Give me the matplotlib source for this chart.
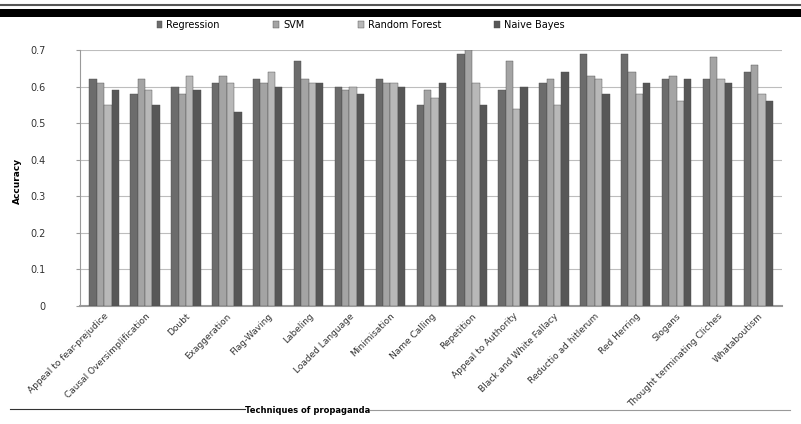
import matplotlib.pyplot as plt
import numpy as np
from matplotlib.lines import Line2D
from matplotlib.patches import Rectangle

techniques = [
    "Appeal to fear-prejudice", "Causal Oversimplification", "Doubt",
    "Exaggeration", "Flag-Waving", "Labeling", "Loaded Language",
    "Minimisation", "Name Calling", "Repetition", "Appeal to Authority",
    "Black and White Fallacy", "Reductio ad hitlerum", "Red Herring",
    "Slogans", "Thought terminating Cliches", "Whataboutism",
]

regression = [0.62, 0.58, 0.60, 0.61, 0.62, 0.67, 0.60, 0.62, 0.55,
              0.69, 0.59, 0.61, 0.69, 0.69, 0.62, 0.62, 0.64]
svm = [0.61, 0.62, 0.58, 0.63, 0.61, 0.62, 0.59, 0.61, 0.59,
       0.70, 0.67, 0.62, 0.63, 0.64, 0.63, 0.68, 0.66]
random_forest = [0.55, 0.59, 0.63, 0.61, 0.64, 0.61, 0.60, 0.61, 0.57,
                 0.61, 0.54, 0.55, 0.62, 0.58, 0.56, 0.62, 0.58]
naive_bayes = [0.59, 0.55, 0.59, 0.53, 0.60, 0.61, 0.58, 0.60, 0.61,
               0.55, 0.60, 0.64, 0.58, 0.61, 0.62, 0.61, 0.56]

series = [
    ("Regression", regression, "#6c6c6c"),
    ("SVM", svm, "#a4a4a4"),
    ("Random Forest", random_forest, "#b8b8b8"),
    ("Naive Bayes", naive_bayes, "#575757"),
]

fig = plt.figure(figsize=(8.01, 4.24), dpi=100)
ax = fig.add_axes([0.0999, 0.2783, 0.876, 0.6037])

x = np.arange(len(techniques))
width = 0.18
for i, (name, vals, color) in enumerate(series):
    off = (i - 1.5) * width
    ax.bar(x + off, vals, width, color=color, label=name, zorder=3,
           edgecolor="#4a4a4a", linewidth=0.3)

ax.set_xlim(-0.59, len(techniques) - 1 + 0.57)
ax.set_ylim(0, 0.7)
ax.set_yticks(np.arange(0, 0.71, 0.1))
ax.set_yticklabels(["0", "0.1", "0.2", "0.3", "0.4", "0.5", "0.6", "0.7"])
ax.yaxis.grid(True, color="#bdbdbd", linewidth=0.8, zorder=0)
ax.set_axisbelow(True)

for side in ["top", "right"]:
    ax.spines[side].set_visible(False)
ax.spines["left"].set_color("#9a9a9a")
ax.spines["bottom"].set_color("#9a9a9a")
ax.spines["bottom"].set_linewidth(1.5)

ax.tick_params(axis="y", labelsize=7, colors="#333333", length=3, pad=22,
               color="#9a9a9a")
ax.tick_params(axis="x", length=0, pad=4)
ax.set_xticks(x)
ax.set_xticklabels(techniques, rotation=45, ha="right",
                   rotation_mode="anchor", fontsize=6.5, color="#333333")

ax.set_ylabel("Accuracy", fontsize=6.5, fontweight="bold")
ax.yaxis.set_label_coords(-0.083, 0.49)
ax.set_xlabel("Techniques of propaganda", fontsize=6, fontweight="bold")
ax.xaxis.set_label_coords(0.325, -0.39)

ax.legend(loc="center", bbox_to_anchor=(0.40, 1.098), ncol=4, frameon=False,
          fontsize=7, handlelength=0.6, handleheight=0.6, handletextpad=0.4,
          columnspacing=5.5)

# header rules
fig.add_artist(Rectangle((0, 1 - 17 / 424), 1, 8 / 424, transform=fig.transFigure,
                         color="black", linewidth=0))
fig.add_artist(Line2D([0, 1], [1 - 5 / 424, 1 - 5 / 424], transform=fig.transFigure,
                      color="#555555", linewidth=1.5))

# rules either side of the axis title
fig.add_artist(Line2D([10 / 801, 245 / 801], [1 - 409 / 424] * 2,
                      transform=fig.transFigure, color="#333333", linewidth=0.8))
fig.add_artist(Line2D([370 / 801, 790 / 801], [1 - 410 / 424] * 2,
                      transform=fig.transFigure, color="#9a9a9a", linewidth=0.8))

plt.savefig("out.png", dpi=100)
